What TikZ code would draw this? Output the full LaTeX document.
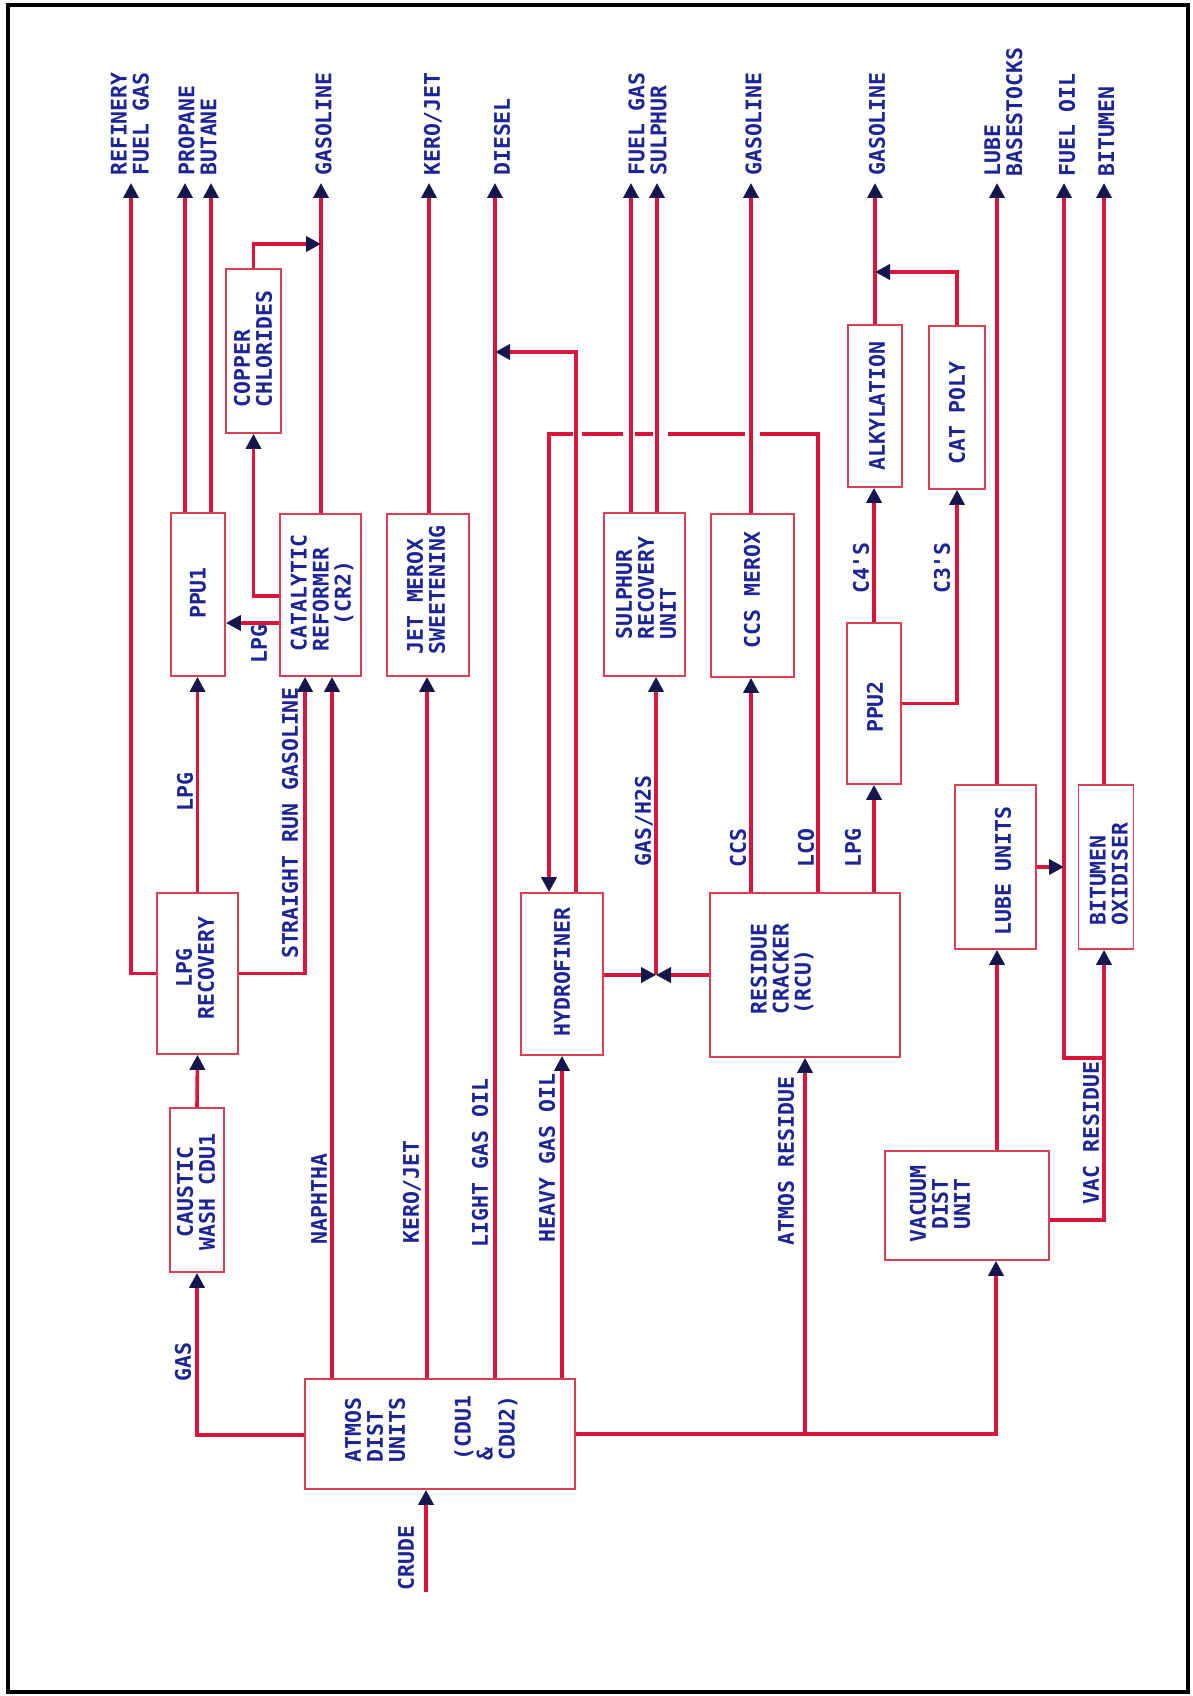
\documentclass[tikz,border=0pt]{standalone}
\usepackage{fontspec}
\newfontfamily\plotfont{DejaVu Sans Mono}
\usetikzlibrary{arrows.meta}
\definecolor{linered}{RGB}{216,22,60}
\definecolor{boxred}{RGB}{222,60,82}
\definecolor{txtblue}{RGB}{28,36,150}
\definecolor{arrnavy}{RGB}{22,22,78}
\begin{document}
\begin{tikzpicture}[x=1pt,y=-1pt,
  font=\plotfont\bfseries\fontsize{21.5pt}{22pt}\selectfont,
  flow/.style={draw=linered,line width=3.6pt},
  arr/.style={-{Triangle[length=15pt,width=15pt,color=arrnavy]}},
  box/.style={draw=boxred,line width=1.7pt,inner sep=0pt},
  lbl/.style={text=txtblue,rotate=90,inner sep=0pt,align=left},
  lblc/.style={lbl,align=center},
  outl/.style={lbl,anchor=west}]
\useasboundingbox (0,0) rectangle (1193,1696);
\draw[line width=4.5pt] (8,5) rectangle (1188,1692);

% boxes
\node[box,minimum width=54pt,minimum height=164pt] (caustic) at (197,1190) {};
\node[box,minimum width=81pt,minimum height=161pt] (lpgrec) at (197.5,973.5) {};
\node[box,minimum width=54pt,minimum height=163pt] (ppu1) at (198,594.5) {};
\node[box,minimum width=81pt,minimum height=162pt] (reformer) at (320.5,595) {};
\node[box,minimum width=55pt,minimum height=164pt] (copper) at (253.5,351) {};
\node[box,minimum width=82pt,minimum height=162pt] (jetmerox) at (428,595) {};
\node[box,minimum width=82pt,minimum height=162pt] (hydro) at (562,974) {};
\node[box,minimum width=81pt,minimum height=163pt] (sru) at (644.5,594.5) {};
\node[box,minimum width=83pt,minimum height=163pt] (ccsmerox) at (752.5,595.5) {};
\node[box,minimum width=54pt,minimum height=162pt] (alky) at (875,406) {};
\node[box,minimum width=56pt,minimum height=163pt] (catpoly) at (957,407.5) {};
\node[box,minimum width=54pt,minimum height=161pt] (ppu2) at (874,703.5) {};
\node[box,minimum width=190pt,minimum height=164pt] (rcu) at (805,975) {};
\node[box,minimum width=81pt,minimum height=164pt] (lube) at (995.5,867) {};
\node[box,minimum width=55pt,minimum height=164pt] (bitox) at (1106,867) {};
\node[box,minimum width=164pt,minimum height=109pt] (vdu) at (967,1205.5) {};
\node[box,minimum width=270pt,minimum height=110pt] (adu) at (440,1434) {};

% box texts
\node[lblc] (caustic-t) at (196,1192) {CAUSTIC\\WASH CDU1};
\node[lblc] (lpgrec-t) at (195,968) {LPG\\RECOVERY};
\node[lbl] (ppu1-t) at (198,593) {PPU1};
\node[lbl] (reformer-t) at (322,593) {CATALYTIC\\REFORMER\\\phantom{XX}(CR2)};
\node[lbl] (copper-t) at (253,349) {COPPER\\CHLORIDES};
\node[lbl] (jetmerox-t) at (426,590) {JET MEROX\\SWEETENING};
\node[lbl] (hydro-t) at (562,972) {HYDROFINER};
\node[lbl] (sru-t) at (646,588) {SULPHUR\\RECOVERY\\UNIT};
\node[lbl] (ccsmerox-t) at (752,590) {CCS MEROX};
\node[lbl] (alky-t) at (877,406) {ALKYLATION};
\node[lbl] (catpoly-t) at (957,413) {CAT POLY};
\node[lbl] (ppu2-t) at (875,707) {PPU2};
\node[lbl] (rcu-t) at (782,969) {RESIDUE\\CRACKER\\(RCU)};
\node[lbl] (lube-t) at (1003,871) {LUBE UNITS};
\node[lbl] (bitox-t) at (1109,874) {BITUMEN\\OXIDISER};
\node[lblc] (vdu-t) at (940,1204) {VACUUM\\DIST\\UNIT};
\node[lbl] (adu-t1) at (375,1430) {ATMOS\\DIST\\UNITS};
\node[lbl] (adu-t2) at (486,1428) {(CDU1\\\&\\CDU2)};

% output end points
\coordinate (o-rfg) at (131,183);
\coordinate (o-prop) at (185,183);
\coordinate (o-but) at (211,183);
\coordinate (o-gas1) at (321,183);
\coordinate (o-kero) at (429,183);
\coordinate (o-dsl) at (495,183);
\coordinate (o-fg) at (631,183);
\coordinate (o-sul) at (657,183);
\coordinate (o-gas2) at (751,183);
\coordinate (o-gas3) at (875,183);
\coordinate (o-lube) at (997,183);
\coordinate (o-fo) at (1064,183);
\coordinate (o-bit) at (1104,183);

% output labels
\node[outl] (t-rfg) at (130,176) {REFINERY\\FUEL GAS};
\node[outl] (t-pb) at (197.5,176) {PROPANE\\BUTANE};
\node[outl] (t-gas1) at (323.5,176) {GASOLINE};
\node[outl] (t-kero) at (433,176) {KERO/JET};
\node[outl] (t-dsl) at (502,176) {DIESEL};
\node[outl] (t-fg) at (647.5,176) {FUEL GAS\\SULPHUR};
\node[outl] (t-gas2) at (753.5,176) {GASOLINE};
\node[outl] (t-gas3) at (877,176) {GASOLINE};
\node[outl] (t-lube) at (1003.5,177) {LUBE\\BASESTOCKS};
\node[outl] (t-fo) at (1067,177) {FUEL OIL};
\node[outl] (t-bit) at (1106.5,177) {BITUMEN};

% helper coordinates
\coordinate (crude) at (426,1592);
\coordinate (y-gas) at (0,1435);
\coordinate (x-srg) at (305,0);
\coordinate (x-nap) at (332,0);
\coordinate (x-kero) at (427,0);
\coordinate (y-cu) at (0,596);
\coordinate (y-lpg) at (0,623);
\coordinate (j-cu) at (321,244);
\coordinate (x-hr) at (576,0);
\coordinate (j-dsl) at (495,352);
\coordinate (c-lco) at (818,434);
\coordinate (c-hyd) at (549,434);
\coordinate (j-gh) at (656,975);
\coordinate (j-cp) at (875,272);
\coordinate (x-vac) at (996,0);
\coordinate (j-lube) at (1064,867);
\coordinate (y-vr) at (0,1220);
\coordinate (j-vr) at (1104,1058);

% connectors
\draw[flow,arr] (crude) -- (adu.south -| crude);
\draw[flow,arr] (adu.west |- y-gas) -| (caustic.south);
\draw[flow,arr] (caustic.north) -- (lpgrec.south);
\draw[flow,arr] (lpgrec.north) -- (ppu1.south -| lpgrec.north);
\draw[flow,arr] (lpgrec.west) -| (o-rfg);
\draw[flow,arr] (lpgrec.east) -| (reformer.south -| x-srg);
\draw[flow,arr] (adu.north -| x-nap) -- (reformer.south -| x-nap);
\draw[flow,arr] (adu.north -| x-kero) -- (jetmerox.south -| x-kero);
\draw[flow,arr] (adu.north -| o-dsl) -- (o-dsl);
\draw[flow,arr] (adu.north -| hydro.south) -- (hydro.south);
\draw[flow,arr] (adu.east) -| (vdu.south -| x-vac);
\draw[flow,arr] (adu.east -| rcu.south) -- (rcu.south);
\draw[flow,arr] (ppu1.north -| o-prop) -- (o-prop);
\draw[flow,arr] (ppu1.north -| o-but) -- (o-but);
\draw[flow,arr] (reformer.north -| o-gas1) -- (o-gas1);
\draw[flow,arr] (reformer.west |- y-cu) -| (copper.south);
\draw[flow,arr] (reformer.west |- y-lpg) -- (ppu1.east |- y-lpg);
\draw[flow,arr] (copper.north) |- (j-cu);
\draw[flow,arr] (jetmerox.north -| o-kero) -- (o-kero);
\draw[flow,arr] (hydro.north -| x-hr) |- (j-dsl);
\draw[flow,arr,dash pattern=on 516pt off 15pt on 77pt off 15pt on 18pt off 12pt on 41pt off 9pt on 600pt off 10pt]
  (rcu.north -| c-lco) |- (c-hyd) -- (hydro.north -| c-hyd);
\draw[flow,arr] (j-gh) -- (sru.south -| j-gh);
\draw[flow,arr] (hydro.east |- j-gh) -- (j-gh);
\draw[flow,arr] (rcu.west |- j-gh) -- (j-gh);
\draw[flow,arr] (sru.north -| o-fg) -- (o-fg);
\draw[flow,arr] (sru.north -| o-sul) -- (o-sul);
\draw[flow,arr] (rcu.north -| o-gas2) -- (ccsmerox.south -| o-gas2);
\draw[flow,arr] (ccsmerox.north -| o-gas2) -- (o-gas2);
\draw[flow,arr] (rcu.north -| ppu2.south) -- (ppu2.south);
\draw[flow,arr] (ppu2.north) -- (alky.south -| ppu2.north);
\draw[flow,arr] (alky.north -| o-gas3) -- (o-gas3);
\draw[flow,arr] (ppu2.east) -| (catpoly.south);
\draw[flow,arr] (catpoly.north) |- (j-cp);
\draw[flow,arr] (vdu.north -| o-lube) -- (lube.south -| o-lube);
\draw[flow,arr] (lube.north -| o-lube) -- (o-lube);
\draw[flow,arr] (j-vr) -| (o-fo);
\draw[flow,arr] (lube.east) -- (j-lube);
\draw[flow,arr] (vdu.east |- y-vr) -| (bitox.south -| o-bit);
\draw[flow,arr] (bitox.north -| o-bit) -- (o-bit);

% stream labels
\node[lbl] (l-gas) at (183,1362) {GAS};
\node[lbl] (l-lpg1) at (185,792) {LPG};
\node[lbl] (l-lpg2) at (259,644) {LPG};
\node[lbl] (l-srg) at (290,823) {STRAIGHT RUN GASOLINE};
\node[lbl] (l-nap) at (319,1199) {NAPHTHA};
\node[lbl] (l-kero) at (412,1192) {KERO/JET};
\node[lbl] (l-lgo) at (480,1163) {LIGHT GAS OIL};
\node[lbl] (l-hgo) at (547,1158) {HEAVY GAS OIL};
\node[lbl] (l-ar) at (786,1161) {ATMOS RESIDUE};
\node[lbl] (l-vr) at (1091,1133) {VAC RESIDUE};
\node[lbl] (l-crude) at (406,1558) {CRUDE};
\node[lbl] (l-gh) at (644,821) {GAS/H2S};
\node[lbl] (l-ccs) at (738,848) {CCS};
\node[lbl] (l-lco) at (806,848) {LCO};
\node[lbl] (l-lpg3) at (853,848) {LPG};
\node[lbl] (l-c4) at (861,568) {C4'S};
\node[lbl] (l-c3) at (942,568) {C3'S};
\end{tikzpicture}
\end{document}
